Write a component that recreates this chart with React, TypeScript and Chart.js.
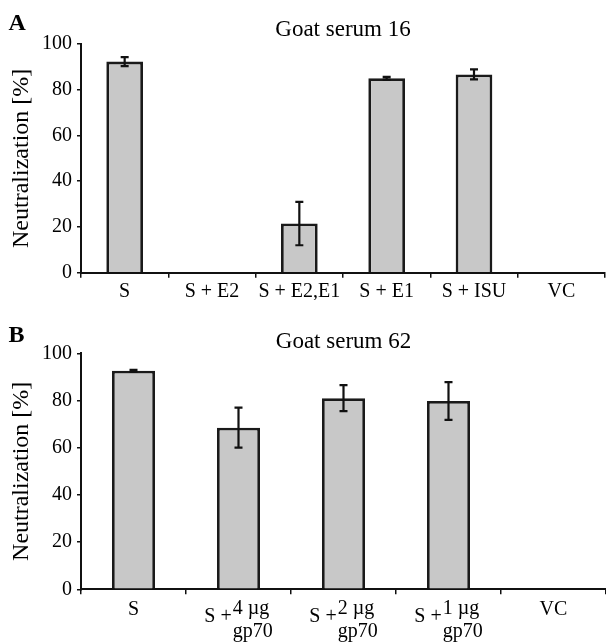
import React, { useEffect, useRef } from 'react';
import { Chart, registerables } from 'chart.js';

Chart.register(...registerables);

const FONT = "'Liberation Serif', 'Times New Roman', Times, serif";

// Panel A data
const categoriesA = ['S', 'S + E2', 'S + E2,E1', 'S + E1', 'S + ISU', 'VC'];
const valuesA = [92.3, 0, 21.5, 85, 86.7, 0];
const errorsA = [2.0, 0, 9.5, 0.6, 2.2, 0];

// Panel B data
const categoriesB = ['S', 'S +', 'S +', 'S +', 'VC'];
const superB = ['', '4 µg', '2 µg', '1 µg', ''];
const subB = ['', 'gp70', 'gp70', 'gp70', ''];
const valuesB = [92.6, 68.5, 81, 79.8, 0];
const errorsB = [0.4, 8.5, 5.5, 8, 0];

const yMin = 0;
const yMax = 100;
const yStep = 20;

const TEXT = '#000';
const BAR_FILL = '#c8c8c8';
const BAR_EDGE = '#1a1a1a';

const errorBarPlugin = {
  id: 'errorBars',
  afterDatasetsDraw(chart: any) {
    const ds = chart.data.datasets[0];
    const errs: number[] = ds.errors || [];
    const meta = chart.getDatasetMeta(0);
    const y = chart.scales.y;
    const ctx = chart.ctx;
    ctx.save();
    ctx.strokeStyle = '#111';
    ctx.lineWidth = 2.2;
    meta.data.forEach((bar: any, i: number) => {
      const e = errs[i];
      if (!e) return;
      const v = ds.data[i];
      const x = bar.x;
      const yt = y.getPixelForValue(v + e);
      const yb = y.getPixelForValue(v - e);
      ctx.beginPath();
      ctx.moveTo(x, yt);
      ctx.lineTo(x, yb);
      ctx.moveTo(x - 4, yt);
      ctx.lineTo(x + 4, yt);
      ctx.moveTo(x - 4, yb);
      ctx.lineTo(x + 4, yb);
      ctx.stroke();
    });
    ctx.restore();
  },
};

function panelTextPlugin(letter: string, title: string, letterY: number, titleY: number) {
  return {
    id: 'panelText',
    afterDraw(chart: any) {
      const ctx = chart.ctx;
      const area = chart.chartArea;
      ctx.save();
      ctx.fillStyle = TEXT;
      ctx.textBaseline = 'alphabetic';
      ctx.font = `bold 24px ${FONT}`;
      ctx.textAlign = 'left';
      ctx.fillText(letter, 8.5, letterY);
      ctx.font = `23px ${FONT}`;
      ctx.textAlign = 'center';
      ctx.fillText(title, (area.left + area.right) / 2, titleY);
      ctx.restore();
    },
  };
}

function composedLabelsPlugin(mains: string[], sups: string[], subs: string[], base: number) {
  return {
    id: 'composedLabels',
    afterDraw(chart: any) {
      const ctx = chart.ctx;
      const xs = chart.scales.x;
      ctx.save();
      ctx.fillStyle = TEXT;
      ctx.font = `20px ${FONT}`;
      ctx.textBaseline = 'alphabetic';
      mains.forEach((m, i) => {
        const cx = xs.getPixelForValue(i);
        const sp = sups[i];
        const sb = subs[i];
        if (!sp && !sb) {
          ctx.textAlign = 'center';
          ctx.fillText(m, cx, base);
          return;
        }
        const mw = ctx.measureText(m).width;
        const rw = Math.max(ctx.measureText(sp).width, ctx.measureText(sb).width);
        const gap = 1;
        const x0 = cx - (mw + gap + rw) / 2;
        ctx.textAlign = 'left';
        ctx.fillText(m, x0, base + 6.7);
        ctx.fillText(sp, x0 + mw + gap, base - 0.7);
        ctx.fillText(sb, x0 + mw + gap, base + 21.7);
      });
      ctx.restore();
    },
  };
}

function makeConfig(opts: {
  labels: string[];
  values: number[];
  errors: number[];
  barPct: number;
  height: number;
  areaTop: number;
  areaBottom: number;
  rightPad: number;
  showTicks: boolean;
  plugins: any[];
}) {
  const axisFont = { family: FONT, size: 20 };
  return {
    type: 'bar',
    data: {
      labels: opts.labels,
      datasets: [
        {
          data: opts.values,
          errors: opts.errors,
          backgroundColor: BAR_FILL,
          borderColor: BAR_EDGE,
          borderWidth: 2.8,
          barPercentage: opts.barPct,
          categoryPercentage: 1,
        },
      ],
    },
    options: {
      animation: false,
      responsive: true,
      maintainAspectRatio: false,
      layout: { padding: { top: opts.areaTop, right: opts.rightPad, left: 0, bottom: 0 } },
      plugins: {
        legend: { display: false },
        tooltip: { enabled: false },
        title: { display: false },
      },
      scales: {
        x: {
          offset: true,
          grid: {
            offset: true,
            drawOnChartArea: false,
            drawTicks: true,
            tickLength: 5,
            color: '#111',
            lineWidth: 1.5,
          },
          border: { display: true, color: '#111', width: 2 },
          ticks: {
            display: opts.showTicks,
            font: axisFont,
            color: TEXT,
            padding: 2,
            maxRotation: 0,
            autoSkip: false,
          },
          afterFit: (s: any) => {
            s.height = opts.height - opts.areaBottom;
          },
        },
        y: {
          min: yMin,
          max: yMax,
          ticks: { stepSize: yStep, font: axisFont, color: TEXT, padding: 5 },
          grid: {
            drawOnChartArea: false,
            drawTicks: true,
            tickLength: 4,
            color: '#111',
            lineWidth: 1.5,
          },
          border: { display: true, color: '#111', width: 2 },
          title: {
            display: true,
            text: 'Neutralization [%]',
            font: { family: FONT, size: 24 },
            color: TEXT,
            padding: { top: 7, bottom: 0 },
          },
          afterFit: (s: any) => {
            s.width = 81;
          },
        },
      },
    },
    plugins: [errorBarPlugin, ...opts.plugins],
  };
}

function ChartBox({ top, height, config }: { top: number; height: number; config: any }) {
  const ref = useRef<HTMLCanvasElement | null>(null);
  useEffect(() => {
    if (!ref.current) return;
    const chart = new Chart(ref.current, config);
    return () => chart.destroy();
  }, [config]);
  return (
    <div style={{ position: 'absolute', left: 0, top, width: 606, height }}>
      <canvas ref={ref} />
    </div>
  );
}

const configA = makeConfig({
  labels: categoriesA,
  values: valuesA,
  errors: errorsA,
  barPct: 0.42,
  height: 300,
  areaTop: 44,
  areaBottom: 272.7,
  rightPad: 1,
  showTicks: true,
  plugins: [panelTextPlugin('A', 'Goat serum 16', 30, 36)],
});

const configB = makeConfig({
  labels: categoriesB,
  values: valuesB,
  errors: errorsB,
  barPct: 0.41,
  height: 342,
  areaTop: 53.3,
  areaBottom: 289.3,
  rightPad: 0,
  showTicks: false,
  plugins: [
    panelTextPlugin('B', 'Goat serum 62', 41.7, 48.3),
    composedLabelsPlugin(categoriesB, superB, subB, 315),
  ],
});

export default function App() {
  return (
    <div
      style={{
        position: 'absolute',
        left: 0,
        top: 0,
        width: 606,
        height: 642,
        background: '#fff',
      }}
    >
      <ChartBox top={0} height={300} config={configA} />
      <ChartBox top={300} height={342} config={configB} />
    </div>
  );
}
